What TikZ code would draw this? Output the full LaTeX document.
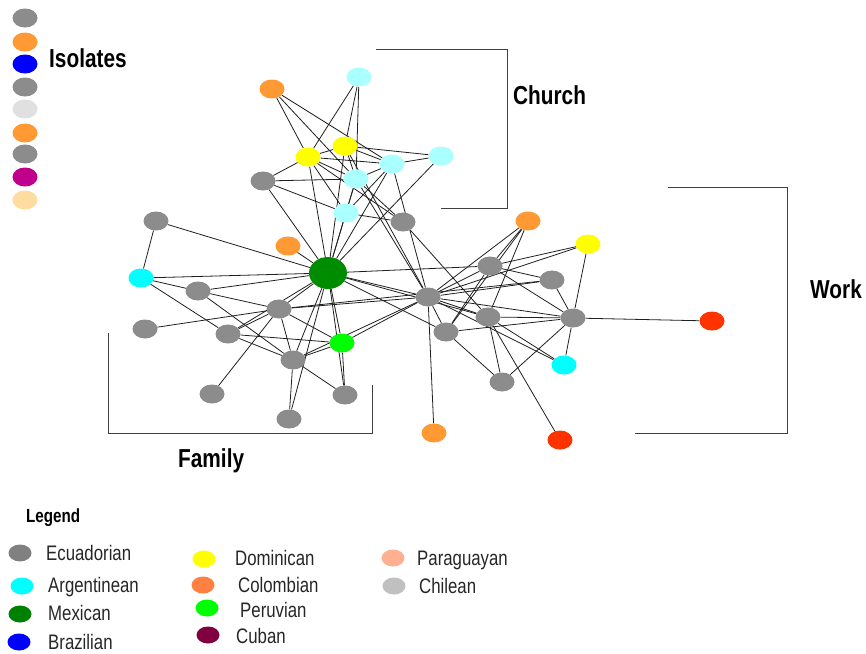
\documentclass[tikz,border=0pt]{standalone}
\usepackage{fontspec}
\usetikzlibrary{shapes.geometric}
\newfontfamily\lblfont[FakeStretch=0.8]{Liberation Sans}
\newfontfamily\legfont[FakeStretch=0.8]{Liberation Sans}
\definecolor{cgray}{HTML}{8C8C8C}
\definecolor{corange}{HTML}{FF9933}
\definecolor{clcyan}{HTML}{AAFFFF}
\definecolor{ccyan}{HTML}{00FFFF}
\definecolor{cyellow}{HTML}{FFFF00}
\definecolor{cmex}{HTML}{008C00}
\definecolor{cperu}{HTML}{00FF00}
\definecolor{cred}{HTML}{FF3300}
\definecolor{cblue}{HTML}{0000FF}
\definecolor{clgray}{HTML}{E0E0E0}
\definecolor{cmag}{HTML}{C0008C}
\definecolor{cpeach}{HTML}{FFDCA0}
\definecolor{lgray}{HTML}{808080}
\definecolor{lmex}{HTML}{008000}
\definecolor{lcol}{HTML}{FF8040}
\definecolor{lcuba}{HTML}{800040}
\definecolor{lpara}{HTML}{FFB090}
\definecolor{lchile}{HTML}{C0C0C0}
\pgfdeclarelayer{bg}
\pgfsetlayers{bg,main}
\tikzset{
  nd/.style={ellipse, draw=none, fill=#1, minimum width=25pt, minimum height=19pt, inner sep=0pt},
  bignd/.style={ellipse, draw=none, fill=#1, minimum width=38pt, minimum height=32pt, inner sep=0pt},
  lgnd/.style={ellipse, draw=none, fill=#1, minimum width=23pt, minimum height=17pt, inner sep=0pt},
  edge/.style={draw=black!88, line width=0.8pt},
  bracket/.style={draw=black!75, line width=1pt},
  grouplbl/.style={anchor=west, inner sep=0pt, font=\lblfont\bfseries\fontsize{26}{28}\selectfont},
  legtitle/.style={anchor=west, inner sep=0pt, font=\lblfont\bfseries\fontsize{19}{21}\selectfont},
  legtxt/.style={anchor=west, inner sep=0pt, font=\legfont\fontsize{21}{23}\selectfont, text=black!85}
}
\begin{document}
\begin{tikzpicture}[x=1pt,y=-1pt]
\useasboundingbox (0,0) rectangle (866,653);
% isolates
\node[nd=cgray] (i1) at (25,18) {};
\node[nd=corange] (i2) at (25,42) {};
\node[nd=cblue] (i3) at (25,64) {};
\node[nd=cgray] (i4) at (25,87) {};
\node[nd=clgray] (i5) at (25,109) {};
\node[nd=corange] (i6) at (25,133) {};
\node[nd=cgray] (i7) at (25,154) {};
\node[nd=cmag] (i8) at (25,177) {};
\node[nd=cpeach] (i9) at (25,200) {};
\node[grouplbl] (tiso) at (49,58) {Isolates};
% nodes
\node[nd=corange] (O1) at (272,89) {};
\node[nd=clcyan] (C1) at (359,77) {};
\node[nd=cyellow] (Y1) at (308,157) {};
\node[nd=cyellow] (Y2) at (345,146) {};
\node[nd=clcyan] (L1) at (392,164) {};
\node[nd=clcyan] (L2) at (441,156) {};
\node[nd=clcyan] (L3) at (356,179) {};
\node[nd=cgray] (G1) at (263,181) {};
\node[nd=clcyan] (L4) at (346,213) {};
\node[nd=cgray] (G2) at (403,222) {};
\node[nd=cgray] (G3) at (156,221) {};
\node[nd=corange] (O2) at (288,246) {};
\node[bignd=cmex] (M) at (328,273) {};
\node[nd=ccyan] (A1) at (141,278) {};
\node[nd=cgray] (G4) at (198,291) {};
\node[nd=cgray] (G5) at (279,309) {};
\node[nd=cgray] (G6) at (145,329) {};
\node[nd=cgray] (G7) at (228,334) {};
\node[nd=cperu] (P) at (342,343) {};
\node[nd=cgray] (G8) at (293,360) {};
\node[nd=cgray] (G9) at (212,394) {};
\node[nd=cgray] (G10) at (345,395) {};
\node[nd=cgray] (G11) at (289,419) {};
\node[nd=corange] (O3) at (528,221) {};
\node[nd=cyellow] (Y3) at (588,244) {};
\node[nd=cgray] (G12) at (490,266) {};
\node[nd=cgray] (G13) at (552,280) {};
\node[nd=cgray] (G14) at (428,297) {};
\node[nd=cgray] (G15) at (488,317) {};
\node[nd=cgray] (G16) at (573,318) {};
\node[nd=cgray] (G17) at (446,332) {};
\node[nd=ccyan] (A2) at (564,365) {};
\node[nd=cgray] (G18) at (502,382) {};
\node[nd=corange] (O4) at (434,433) {};
\node[nd=cred] (R1) at (560,440) {};
\node[nd=cred] (R2) at (712,321) {};
% edges
\begin{pgfonlayer}{bg}
\foreach \a/\b in {O1/Y1,O1/L1,O1/L3,C1/Y1,C1/Y2,C1/L3,Y1/G1,Y1/Y2,Y1/L1,Y1/L3,Y1/L4,
  Y2/L1,Y2/L2,Y2/L3,L1/L2,L1/L3,G1/L3,G1/L4,L3/L4,L4/G2,L1/L4,L2/M,G1/M,Y1/M,Y2/M,L3/M,L4/M,L1/M,
  Y2/G14,L3/G14,L1/G14,Y1/G2,L3/G2,G2/G15,
  G14/M,G14/G12,G14/O3,G14/Y3,G14/G13,G14/G16,G14/G15,G14/G17,G14/O4,G14/P,G14/G5,G14/A2,G14/G8,
  M/G12,M/G15,M/G17,G12/O3,G12/Y3,G12/G13,G12/G16,G12/G17,O3/G15,O3/G17,Y3/G16,G13/G16,
  G16/R2,G16/A2,G16/G18,G16/G15,G16/G17,G15/A2,G15/R1,G15/G18,G17/G18,G5/G13,
  G3/A1,G3/M,O2/M,A1/M,A1/G4,A1/G7,G4/M,G4/G5,G4/G8,G6/G5,G5/M,G5/G7,G5/G9,G5/G8,G5/P,
  G7/P,G7/G8,G7/M,P/M,P/G10,P/G8,G8/M,G8/G11,G8/G10,G10/M,G11/M}
  \draw[edge] (\a) -- (\b);
\end{pgfonlayer}
% brackets
\coordinate (ch1) at (376,49); \coordinate (ch2) at (507,49);
\coordinate (ch3) at (507,208); \coordinate (ch4) at (441,208);
\draw[bracket] (ch1) -- (ch2) -- (ch3) -- (ch4);
\coordinate (w1) at (668,187); \coordinate (w2) at (787,187);
\coordinate (w3) at (787,433); \coordinate (w4) at (635,433);
\draw[bracket] (w1) -- (w2) -- (w3) -- (w4);
\coordinate (f1) at (108,333); \coordinate (f2) at (108,433);
\coordinate (f3) at (372,433); \coordinate (f4) at (372,385);
\draw[bracket] (f1) -- (f2) -- (f3) -- (f4);
\node[grouplbl] (tch) at (513,95) {Church};
\node[grouplbl] (twk) at (810,289) {Work};
\node[grouplbl] (tfam) at (178,461) {Family};
% legend
\node[legtitle] (tleg) at (26,518) {Legend};
\node[lgnd=lgray] (k1) at (20,553) {};
\node[legtxt] at (46,553) {Ecuadorian};
\node[lgnd=ccyan] (k2) at (22,586) {};
\node[legtxt] at (48,587) {Argentinean};
\node[lgnd=lmex] (k3) at (20,614) {};
\node[legtxt] at (48,613) {Mexican};
\node[lgnd=cblue] (k4) at (19,642) {};
\node[legtxt] at (48,642) {Brazilian};
\node[lgnd=cyellow] (k5) at (204,559) {};
\node[legtxt] at (235,558) {Dominican};
\node[lgnd=lcol] (k6) at (203,585) {};
\node[legtxt] at (238,585) {Colombian};
\node[lgnd=cperu] (k7) at (207,608) {};
\node[legtxt] at (240,610) {Peruvian};
\node[lgnd=lcuba] (k8) at (208,635) {};
\node[legtxt] at (236,636) {Cuban};
\node[lgnd=lpara] (k9) at (393,558) {};
\node[legtxt] at (417,560) {Paraguayan};
\node[lgnd=lchile] (k10) at (394,586) {};
\node[legtxt] at (419,586) {Chilean};
\end{tikzpicture}
\end{document}
